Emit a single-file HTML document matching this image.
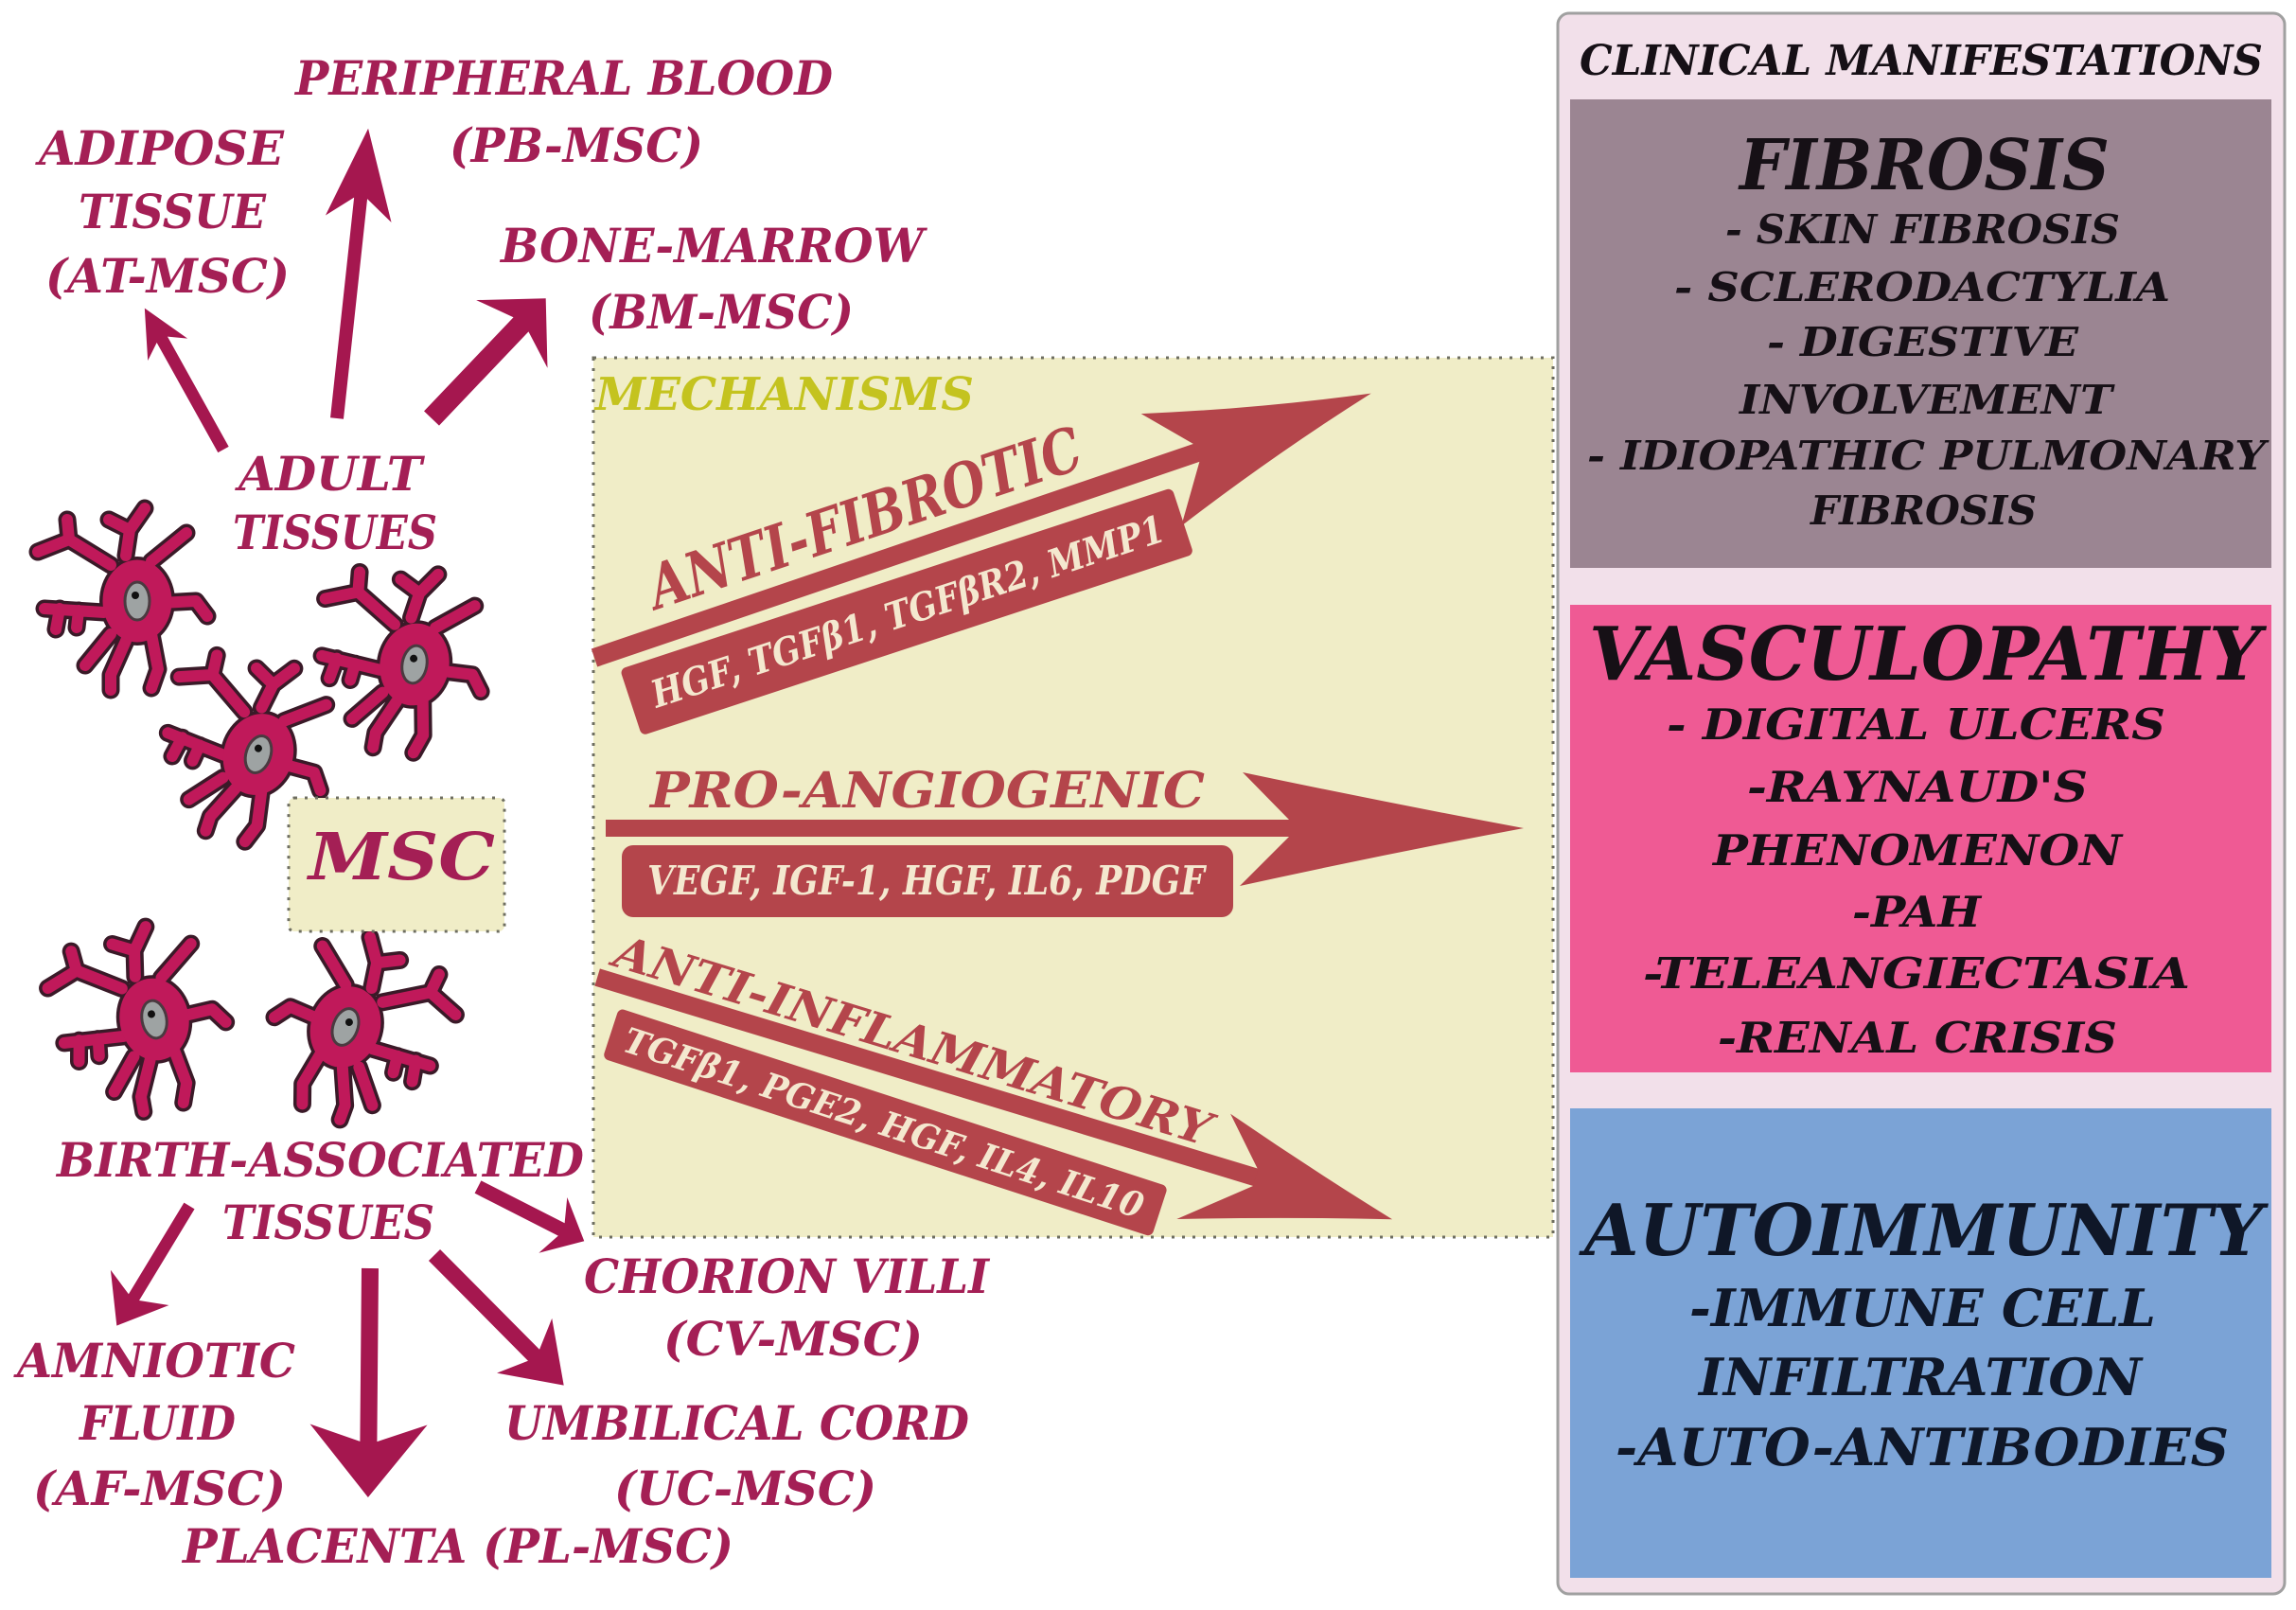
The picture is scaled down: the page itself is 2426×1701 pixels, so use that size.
<!DOCTYPE html>
<html>
<head>
<meta charset="utf-8">
<style>
  html,body{margin:0;padding:0;background:#ffffff;}
  body{width:2426px;height:1701px;overflow:hidden;}
  svg{display:block;}
  .t{font-family:"DejaVu Serif","Liberation Serif",serif;font-weight:bold;font-style:italic;}
  .lc{fill:#a41f55;font-size:50px;}
  .rk{fill:#161016;}
  .ab{fill:#0f1728;}
</style>
</head>
<body>
<svg width="2426" height="1701" viewBox="0 0 2426 1701" xmlns="http://www.w3.org/2000/svg">
  <defs>
    <g id="cell">
      <g fill="none" stroke="#3a1a28" stroke-width="19" stroke-linecap="round" stroke-linejoin="round">
        <path d="M-28,-38 L-72,-65 L-105,-52 M-72,-65 L-74,-86 M-12,-48 L-8,-75 L8,-98 M-8,-75 L-30,-86 M15,-42 L52,-72 M25,2 L62,0 L74,16 M15,35 L22,72 L15,92 M-12,42 L-28,78 L-28,94 M-35,12 L-98,8 M-82,8 L-86,30 M-62,10 L-64,28 M-28,35 L-55,68"/>
      </g>
      <ellipse cx="0" cy="0" rx="40" ry="47" fill="#3a1a28"/>
      <g fill="none" stroke="#c0195a" stroke-width="12" stroke-linecap="round" stroke-linejoin="round">
        <path d="M-28,-38 L-72,-65 L-105,-52 M-72,-65 L-74,-86 M-12,-48 L-8,-75 L8,-98 M-8,-75 L-30,-86 M15,-42 L52,-72 M25,2 L62,0 L74,16 M15,35 L22,72 L15,92 M-12,42 L-28,78 L-28,94 M-35,12 L-98,8 M-82,8 L-86,30 M-62,10 L-64,28 M-28,35 L-55,68"/>
      </g>
      <ellipse cx="0" cy="0" rx="36.5" ry="43.5" fill="#c0195a"/>
      <ellipse cx="0" cy="0" rx="13" ry="20" fill="#9ea3a3" stroke="#4a3a40" stroke-width="3"/>
      <circle cx="-2" cy="-6" r="4" fill="#111"/>
    </g>
  </defs>

  <!-- ============ RIGHT PANEL ============ -->
  <rect x="1646" y="14" width="768" height="1670" rx="12" ry="12" fill="#f2e0ea" stroke="#a0a0a0" stroke-width="3"/>
  <text class="t rk" x="1669" y="79" font-size="44" textLength="722" lengthAdjust="spacingAndGlyphs">CLINICAL MANIFESTATIONS</text>

  <rect x="1659" y="105" width="741" height="495" fill="#9b8592"/>
  <text class="t rk" x="1838" y="200" font-size="74" textLength="391" lengthAdjust="spacingAndGlyphs">FIBROSIS</text>
  <text class="t rk" x="1823" y="257" font-size="42" textLength="417" lengthAdjust="spacingAndGlyphs">- SKIN FIBROSIS</text>
  <text class="t rk" x="1769" y="318" font-size="42" textLength="524" lengthAdjust="spacingAndGlyphs">- SCLERODACTYLIA</text>
  <text class="t rk" x="1867" y="376" font-size="42" textLength="329" lengthAdjust="spacingAndGlyphs">- DIGESTIVE</text>
  <text class="t rk" x="1838" y="437" font-size="42" textLength="394" lengthAdjust="spacingAndGlyphs">INVOLVEMENT</text>
  <text class="t rk" x="1677" y="496" font-size="42" textLength="717" lengthAdjust="spacingAndGlyphs">- IDIOPATHIC PULMONARY</text>
  <text class="t rk" x="1913" y="554" font-size="42" textLength="239" lengthAdjust="spacingAndGlyphs">FIBROSIS</text>

  <rect x="1659" y="639" width="741" height="494" fill="#ef5a94"/>
  <text class="t rk" x="1679" y="718" font-size="78" textLength="710" lengthAdjust="spacingAndGlyphs">VASCULOPATHY</text>
  <text class="t rk" x="1761" y="781" font-size="45" textLength="527" lengthAdjust="spacingAndGlyphs">- DIGITAL ULCERS</text>
  <text class="t rk" x="1846" y="847" font-size="45" textLength="360" lengthAdjust="spacingAndGlyphs">-RAYNAUD'S</text>
  <text class="t rk" x="1810" y="914" font-size="45" textLength="432" lengthAdjust="spacingAndGlyphs">PHENOMENON</text>
  <text class="t rk" x="1957" y="979" font-size="45" textLength="136" lengthAdjust="spacingAndGlyphs">-PAH</text>
  <text class="t rk" x="1736" y="1044" font-size="45" textLength="578" lengthAdjust="spacingAndGlyphs">-TELEANGIECTASIA</text>
  <text class="t rk" x="1815" y="1112" font-size="45" textLength="422" lengthAdjust="spacingAndGlyphs">-RENAL CRISIS</text>

  <rect x="1659" y="1171" width="741" height="496" fill="#7ba3d6"/>
  <text class="t ab" x="1674" y="1326" font-size="75" textLength="717" lengthAdjust="spacingAndGlyphs">AUTOIMMUNITY</text>
  <text class="t ab" x="1785" y="1401" font-size="54" textLength="493" lengthAdjust="spacingAndGlyphs">-IMMUNE CELL</text>
  <text class="t ab" x="1795" y="1474" font-size="54" textLength="468" lengthAdjust="spacingAndGlyphs">INFILTRATION</text>
  <text class="t ab" x="1707" y="1548" font-size="54" textLength="648" lengthAdjust="spacingAndGlyphs">-AUTO-ANTIBODIES</text>

  <!-- ============ MECHANISMS BOX ============ -->
  <rect x="627" y="378" width="1014" height="929" fill="#f0edc7" stroke="#6e6e60" stroke-width="3" stroke-dasharray="3 8"/>
  <text class="t" x="629" y="433" font-size="48" fill="#c4c31f" textLength="400" lengthAdjust="spacingAndGlyphs">MECHANISMS</text>

  <!-- Anti-fibrotic -->
  <g fill="#b4454b">
    <g transform="translate(628,695) rotate(-18.8)">
      <rect x="0" y="-10" width="700" height="20"/>
      <path d="M867,0 Q745,-24 630,-58 L672,-10 L672,10 L632,68 Q750,28 867,0 Z"/>
    </g>
    <g transform="translate(655,707) rotate(-18.2)">
      <rect x="0" y="0" width="614" height="74" rx="6" ry="6"/>
      <text class="t" x="24" y="51" font-size="40" fill="#f4e8cf" textLength="568" lengthAdjust="spacingAndGlyphs">HGF, TGFβ1, TGFβR2, MMP1</text>
    </g>
    <text class="t" transform="translate(694,644) rotate(-18.4)" x="0" y="0" font-size="64" textLength="478" lengthAdjust="spacingAndGlyphs">ANTI-FIBROTIC</text>
  </g>

  <!-- Pro-angiogenic -->
  <g fill="#b4454b">
    <text class="t" x="687" y="853" font-size="52" textLength="586" lengthAdjust="spacingAndGlyphs">PRO-ANGIOGENIC</text>
    <rect x="640" y="866" width="730" height="18"/>
    <path d="M1610,875 Q1460,847 1313,816 L1362,866 L1362,884 L1310,936 Q1460,903 1610,875 Z"/>
    <rect x="657" y="893" width="646" height="76" rx="12" ry="12"/>
    <text class="t" x="684" y="945" font-size="42" fill="#f4e8cf" textLength="589" lengthAdjust="spacingAndGlyphs">VEGF, IGF-1, HGF, IL6, PDGF</text>
  </g>

  <!-- Anti-inflammatory -->
  <g fill="#b4454b">
    <text class="t" transform="translate(646,1020) rotate(16.9)" x="0" y="0" font-size="48" textLength="656" lengthAdjust="spacingAndGlyphs">ANTI-INFLAMMATORY</text>
    <g transform="translate(631,1033) rotate(16.9)">
      <rect x="0" y="-10" width="740" height="19"/>
      <path d="M878,0 Q780,-26 682,-57 L727,-9 L727,9 L660,66 Q770,30 878,0 Z"/>
    </g>
    <g transform="translate(654,1065) rotate(18)">
      <rect x="0" y="0" width="610" height="56" rx="6" ry="6"/>
      <text class="t" x="16" y="42" font-size="37" fill="#f4e8cf" textLength="575" lengthAdjust="spacingAndGlyphs">TGFβ1, PGE2, HGF, IL4, IL10</text>
    </g>
  </g>

  <!-- ============ LEFT SIDE ============ -->
  <text class="t lc" x="312" y="100" textLength="568" lengthAdjust="spacingAndGlyphs">PERIPHERAL BLOOD</text>
  <text class="t lc" x="475" y="171" textLength="268" lengthAdjust="spacingAndGlyphs">(PB-MSC)</text>
  <text class="t lc" x="41" y="174" textLength="259" lengthAdjust="spacingAndGlyphs">ADIPOSE</text>
  <text class="t lc" x="83" y="241" textLength="198" lengthAdjust="spacingAndGlyphs">TISSUE</text>
  <text class="t lc" x="48" y="309" textLength="258" lengthAdjust="spacingAndGlyphs">(AT-MSC)</text>
  <text class="t lc" x="529" y="277" textLength="447" lengthAdjust="spacingAndGlyphs">BONE-MARROW</text>
  <text class="t lc" x="622" y="347" textLength="280" lengthAdjust="spacingAndGlyphs">(BM-MSC)</text>
  <text class="t lc" x="252" y="518" textLength="194" lengthAdjust="spacingAndGlyphs">ADULT</text>
  <text class="t lc" x="246" y="580" textLength="216" lengthAdjust="spacingAndGlyphs">TISSUES</text>

  <text class="t lc" x="60" y="1243" textLength="557" lengthAdjust="spacingAndGlyphs">BIRTH-ASSOCIATED</text>
  <text class="t lc" x="235" y="1309" textLength="224" lengthAdjust="spacingAndGlyphs">TISSUES</text>
  <text class="t lc" x="617" y="1366" textLength="428" lengthAdjust="spacingAndGlyphs">CHORION VILLI</text>
  <text class="t lc" x="701" y="1432" textLength="274" lengthAdjust="spacingAndGlyphs">(CV-MSC)</text>
  <text class="t lc" x="18" y="1455" textLength="294" lengthAdjust="spacingAndGlyphs">AMNIOTIC</text>
  <text class="t lc" x="84" y="1521" textLength="165" lengthAdjust="spacingAndGlyphs">FLUID</text>
  <text class="t lc" x="35" y="1590" textLength="267" lengthAdjust="spacingAndGlyphs">(AF-MSC)</text>
  <text class="t lc" x="533" y="1521" textLength="491" lengthAdjust="spacingAndGlyphs">UMBILICAL CORD</text>
  <text class="t lc" x="649" y="1590" textLength="277" lengthAdjust="spacingAndGlyphs">(UC-MSC)</text>
  <text class="t lc" x="193" y="1651" textLength="582" lengthAdjust="spacingAndGlyphs">PLACENTA (PL-MSC)</text>

  <!-- Arrows (crimson) -->
  <g fill="#a5174f">
    <g transform="translate(356,442) rotate(-83.84)"><path d="M0,-7 L234,-7 L212,-35 L308,0 L212,35 L234,7 L0,7 Z"/></g>
    <g transform="translate(236,475) rotate(-119.1)"><path d="M0,-6.5 L133,-6.5 L121,-24 L171,0 L121,24 L133,6.5 L0,6.5 Z"/></g>
    <g transform="translate(456,442) rotate(-46.4)"><path d="M0,-11 L137,-11 L123,-52 L175,0 L123,52 L137,11 L0,11 Z"/></g>
    <g transform="translate(200,1274) rotate(121.2)"><path d="M0,-6.5 L113,-6.5 L101,-36 L148,0 L101,36 L113,6.5 L0,6.5 Z"/></g>
    <g transform="translate(391,1340) rotate(90.5)"><path d="M0,-9 L183,-9 L165,-62 L242,0 L165,62 L183,9 L0,9 Z"/></g>
    <g transform="translate(459,1326) rotate(45.2)"><path d="M0,-8.5 L149,-8.5 L135,-41 L194,0 L135,41 L149,8.5 L0,8.5 Z"/></g>
    <g transform="translate(505,1254) rotate(27)"><path d="M0,-7.5 L99,-7.5 L89,-33 L126,0 L89,33 L99,7.5 L0,7.5 Z"/></g>
  </g>

  <!-- Cells -->
  <use href="#cell" transform="translate(145,635)"/>
  <use href="#cell" transform="translate(438,702) rotate(10)"/>
  <use href="#cell" transform="translate(273,797) rotate(18)"/>
  <use href="#cell" transform="translate(163,1077) rotate(-10)"/>
  <use href="#cell" transform="translate(365,1085) scale(-1,1) rotate(-20)"/>

  <!-- MSC box -->
  <rect x="305" y="843" width="228" height="141" rx="6" ry="6" fill="#f0edc7" stroke="#6e6e60" stroke-width="3" stroke-dasharray="3 8"/>
  <text class="t" x="326" y="929" font-size="68" fill="#a41f55" textLength="197" lengthAdjust="spacingAndGlyphs">MSC</text>
</svg>
</body>
</html>
